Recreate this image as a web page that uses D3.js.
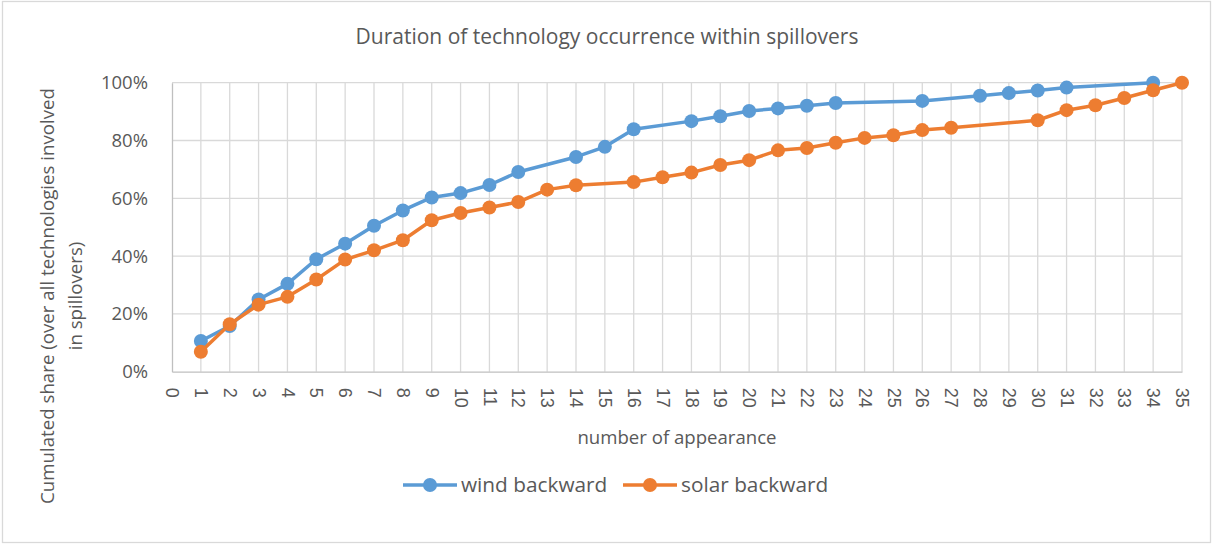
<!DOCTYPE html>
<html>
<head>
<meta charset="utf-8">
<script src="https://cdn.jsdelivr.net/npm/d3@7"></script>
<style>
  html, body { margin: 0; padding: 0; background: #fff; }
  svg { display: block; font-family: "Open Sans", "Noto Sans", sans-serif; }
</style>
</head>
<body>
<svg id="chart" width="1213" height="547"></svg>
<script>
const chartTitle = "Duration of technology occurrence within spillovers";
const xTitle = "number of appearance";
const yTitleLines = ["Cumulated share (over all technologies involved", "in spillovers)"];
const xTicks = d3.range(0, 36);
const yTicks = [0, 0.2, 0.4, 0.6, 0.8, 1.0];

const windX = [1,2,3,4,5,6,7,8,9,10,11,12,14,15,16,18,19,20,21,22,23,26,28,29,30,31,34];
const windY = [0.106,0.158,0.250,0.304,0.389,0.443,0.505,0.558,0.603,0.618,0.646,0.691,0.743,0.778,0.839,0.867,0.884,0.902,0.911,0.920,0.930,0.937,0.955,0.964,0.973,0.983,1.000];

const solarX = [1,2,3,4,5,6,7,8,9,10,11,12,13,14,16,17,18,19,20,21,22,23,24,25,26,27,30,31,32,33,34,35];
const solarY = [0.069,0.164,0.232,0.259,0.319,0.388,0.420,0.455,0.524,0.549,0.568,0.587,0.630,0.645,0.656,0.673,0.689,0.715,0.732,0.766,0.774,0.792,0.809,0.818,0.836,0.844,0.870,0.905,0.922,0.947,0.974,1.000];

const seriesNames = ["wind backward", "solar backward"];
const colors = ["#5B9BD5", "#ED7D31"];

const svg = d3.select("#chart");
const textColor = "#595959";

// outer border
svg.append("rect").attr("x", 2.5).attr("y", 1.5).attr("width", 1208).attr("height", 541)
  .attr("fill", "#fff").attr("stroke", "#d9d9d9").attr("stroke-width", 1.3);

const pLeft = 172, pRight = 1182, pTop = 82.7, pBottom = 371.7;
const x = d3.scaleLinear().domain([0, 35]).range([pLeft, pRight]);
const y = d3.scaleLinear().domain([0, 1]).range([pBottom, pTop]);

// gridlines
const grid = svg.append("g");
grid.selectAll("line.v").data(xTicks.slice(1)).enter().append("line")
  .attr("x1", d => x(d)).attr("x2", d => x(d)).attr("y1", pTop).attr("y2", pBottom)
  .attr("stroke", "#d9d9d9").attr("stroke-width", 1.3);
grid.selectAll("line.h").data(yTicks.slice(1)).enter().append("line")
  .attr("x1", pLeft).attr("x2", pRight).attr("y1", d => y(d)).attr("y2", d => y(d))
  .attr("stroke", "#d9d9d9").attr("stroke-width", 1.3);

// axes
const yAxis = d3.axisLeft(y).tickValues(yTicks).tickFormat(d3.format(".0%")).tickSize(0).tickPadding(24);
const gy = svg.append("g").attr("transform", `translate(${pLeft},0)`).call(yAxis);
gy.select(".domain").attr("stroke", "#bfbfbf").attr("stroke-width", 1.3);
gy.selectAll("text").attr("fill", textColor).attr("font-size", 18.5)
  .style("font-family", "'Open Sans', sans-serif");

const xAxis = d3.axisBottom(x).tickValues(xTicks).tickFormat(d3.format("d")).tickSize(0);
const gx = svg.append("g").attr("transform", `translate(0,${pBottom})`).call(xAxis);
gx.select(".domain").attr("stroke", "#bfbfbf").attr("stroke-width", 1.3);
gx.selectAll("text").attr("fill", textColor).attr("font-size", 18)
  .attr("transform", "rotate(90)").attr("text-anchor", "start")
  .attr("x", 16).attr("y", 0).attr("dy", "0.35em");

// lines
const seriesData = [
  windX.map((d, i) => [d, windY[i]]),
  solarX.map((d, i) => [d, solarY[i]])
];
const line = d3.line().x(d => x(d[0])).y(d => y(d[1]));
seriesData.forEach((data, i) => {
  svg.append("path").datum(data).attr("d", line).attr("fill", "none")
    .attr("stroke", colors[i]).attr("stroke-width", 3.5).attr("stroke-linejoin", "round");
  svg.append("g").selectAll("circle").data(data).enter().append("circle")
    .attr("cx", d => x(d[0])).attr("cy", d => y(d[1])).attr("r", 7)
    .attr("fill", colors[i]);
});

// title
svg.append("text").attr("x", 607).attr("y", 44).attr("text-anchor", "middle")
  .attr("fill", textColor).attr("font-size", 21).text(chartTitle);

// x title
svg.append("text").attr("x", 677).attr("y", 444).attr("text-anchor", "middle")
  .attr("fill", textColor).attr("font-size", 18.6).text(xTitle);

// y title
const yt = svg.append("text").attr("transform", "translate(54,296) rotate(-90)")
  .attr("text-anchor", "middle").attr("fill", textColor).attr("font-size", 18.7);
yTitleLines.forEach((t, i) => {
  yt.append("tspan").attr("x", 0).attr("y", i * 28).text(t);
});

// legend
const legendItems = [
  { name: seriesNames[0], color: colors[0], x0: 403 },
  { name: seriesNames[1], color: colors[1], x0: 623 }
];
const lg = svg.append("g");
legendItems.forEach(it => {
  const g = lg.append("g").attr("transform", `translate(${it.x0},485)`);
  g.append("line").attr("x1", 0).attr("x2", 54).attr("y1", 0).attr("y2", 0)
    .attr("stroke", it.color).attr("stroke-width", 3.5);
  g.append("circle").attr("cx", 27).attr("cy", 0).attr("r", 7).attr("fill", it.color);
  g.append("text").attr("x", 58).attr("y", 0).attr("dy", "0.35em")
    .attr("fill", textColor).attr("font-size", 20.8).text(it.name);
});
</script>
</body>
</html>
